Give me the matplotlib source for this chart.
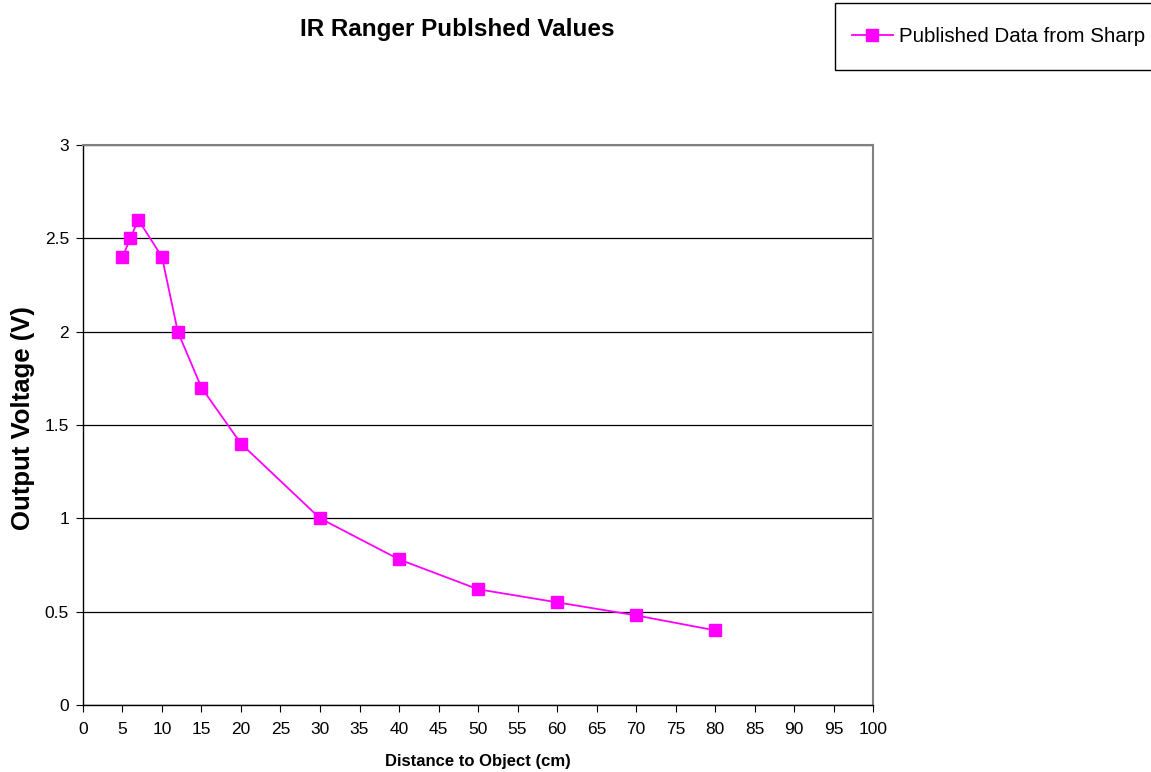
import numpy as np
import matplotlib.pyplot as plt
from matplotlib.patches import Rectangle

plt.rcParams['font.family'] = ['Liberation Sans', 'DejaVu Sans']

# published values
distance = [5, 6, 7, 10, 12, 15, 20, 30, 40, 50, 60, 70, 80]
voltage = [2.4, 2.5, 2.6, 2.4, 2.0, 1.7, 1.4, 1.0, 0.78, 0.62, 0.55, 0.48, 0.4]
xticks = list(range(0, 101, 5))
yticks = [0, 0.5, 1, 1.5, 2, 2.5, 3]
ytick_labels = ['0', '0.5', '1', '1.5', '2', '2.5', '3']

fig = plt.figure(figsize=(11.51, 7.72), dpi=100)
ax = fig.add_axes([0.0721, 0.0868, 0.6864, 0.7254])

ax.plot(distance, voltage, color='#ff00ff', lw=1.3, marker='s', ms=8.5,
        label='Published Data from Sharp', clip_on=False, zorder=3)

ax.set_xlim(0, 100)
ax.set_ylim(0, 3)
ax.set_xticks(xticks)
ax.set_yticks(yticks)
ax.set_yticklabels(ytick_labels)
ax.tick_params(direction='out', length=5, labelsize=12.5, color='black')
ax.tick_params(axis='x', pad=7)
ax.tick_params(axis='y', pad=5)
ax.yaxis.grid(True, color='black', lw=0.9)
ax.set_axisbelow(True)

for s in ['top', 'right']:
    ax.spines[s].set_color('#808080')
    ax.spines[s].set_linewidth(1.5)
for s in ['left', 'bottom']:
    ax.spines[s].set_color('black')
    ax.spines[s].set_linewidth(1.0)

ax.set_xlabel('Distance to Object (cm)', fontsize=12, fontweight='bold', labelpad=12.5)
ax.set_ylabel('Output Voltage (V)', fontsize=18.5, fontweight='bold')
ax.yaxis.set_label_coords(-0.061, 0.513)

fig.text(0.397, 0.962, 'IR Ranger Publshed Values', ha='center', va='center',
         fontsize=17.5, fontweight='bold')

# legend box at top right
fig.patches.append(Rectangle((0.7255, 0.9093), 0.30, 0.0868, transform=fig.transFigure,
                             fill=False, edgecolor='black', lw=1.0))
h, l = ax.get_legend_handles_labels()
fig.legend(h, l, loc='center left', bbox_to_anchor=(0.733, 0.953), frameon=False,
           fontsize=14.8, handlelength=2.0, handletextpad=0.3, borderaxespad=0)

fig.savefig('out.png', dpi=100, facecolor='white')
